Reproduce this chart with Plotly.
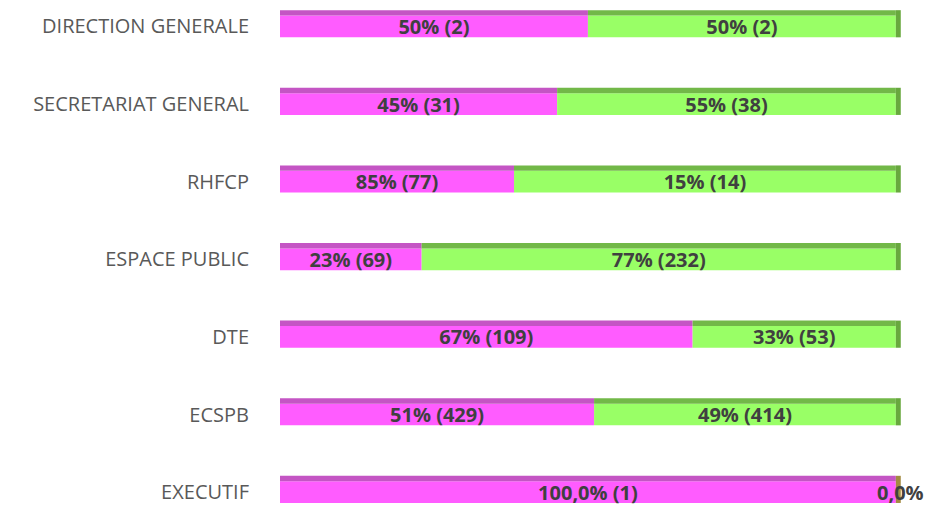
import plotly.graph_objects as go

# Catégories (de haut en bas)
services = ["DIRECTION GENERALE", "SECRETARIAT GENERAL", "RHFCP", "ESPACE PUBLIC",
            "DTE", "ECSPB", "EXECUTIF"]

# longueurs des segments (en %)
part_rose = [50, 45, 38, 23, 67, 51, 100]
part_vert = [50, 55, 62, 77, 33, 49, 0]

# étiquettes affichées
texte_rose = ["50% (2)", "45% (31)", "85% (77)", "23% (69)", "67% (109)", "51% (429)", "100,0% (1)"]
texte_vert = ["50% (2)", "55% (38)", "15% (14)", "77% (232)", "33% (53)", "49% (414)", "0,0%"]

ROSE, ROSE_HAUT = "#ff5cff", "#c455c4"
VERT, VERT_HAUT, VERT_COTE = "#99ff66", "#72b848", "#68a83e"

totaux = [a + b for a, b in zip(part_rose, part_vert)]
cote_couleurs = [VERT_COTE if v > 0 else "#a38b42" for v in part_vert]

W, OFF = 0.28, -0.14         # face avant
WH, OFFH = 0.07, -0.21       # face du dessus

police_barres = dict(family="Open Sans", size=20, color="#404040", weight="bold")

fig = go.Figure()

# face avant rose / verte
fig.add_trace(go.Bar(y=services, x=part_rose, base=[0] * len(services), orientation="h",
                     width=W, offset=OFF, marker=dict(color=ROSE, line_width=0),
                     text=texte_rose, textposition="inside", insidetextanchor="middle",
                     constraintext="none", textfont=police_barres,
                     cliponaxis=False, showlegend=False))
fig.add_trace(go.Bar(y=services, x=part_vert, base=part_rose, orientation="h",
                     width=W, offset=OFF, marker=dict(color=VERT, line_width=0),
                     text=texte_vert[:-1] + [""], textposition="inside",
                     insidetextanchor="middle", constraintext="none",
                     textfont=police_barres, cliponaxis=False, showlegend=False))

# face du dessus (effet 3D)
fig.add_trace(go.Bar(y=services, x=part_rose, base=[0] * len(services), orientation="h",
                     width=WH, offset=OFFH, marker=dict(color=ROSE_HAUT, line_width=0),
                     hoverinfo="skip", showlegend=False))
fig.add_trace(go.Bar(y=services, x=part_vert, base=part_rose, orientation="h",
                     width=WH, offset=OFFH, marker=dict(color=VERT_HAUT, line_width=0),
                     hoverinfo="skip", showlegend=False))

# face de côté
fig.add_trace(go.Bar(y=services, x=[0.8] * len(services), base=totaux, orientation="h",
                     width=W + WH, offset=OFFH, marker=dict(color=cote_couleurs, line_width=0),
                     hoverinfo="skip", showlegend=False, cliponaxis=False))

# étiquette du segment nul (EXECUTIF)
fig.add_annotation(x=totaux[-1], y=services[-1], text=texte_vert[-1], showarrow=False,
                   xanchor="right", xshift=30, font=police_barres)

fig.update_layout(
    width=937, height=506,
    barmode="overlay",
    paper_bgcolor="white", plot_bgcolor="white",
    margin=dict(l=280, r=35, t=0, b=0),
    xaxis=dict(range=[0, 101], visible=False, fixedrange=True),
    yaxis=dict(categoryorder="array", categoryarray=services,
               range=[6.179, -0.341], showgrid=False, zeroline=False, showline=False,
               ticks="", ticklabelstandoff=30,
               tickfont=dict(family="Open Sans", size=20, color="#595959")),
)

# pas de marge autour du graphique dans la page
fig.write_html("out.html", config={"displayModeBar": False},
               post_script="document.body.style.margin='0';")
